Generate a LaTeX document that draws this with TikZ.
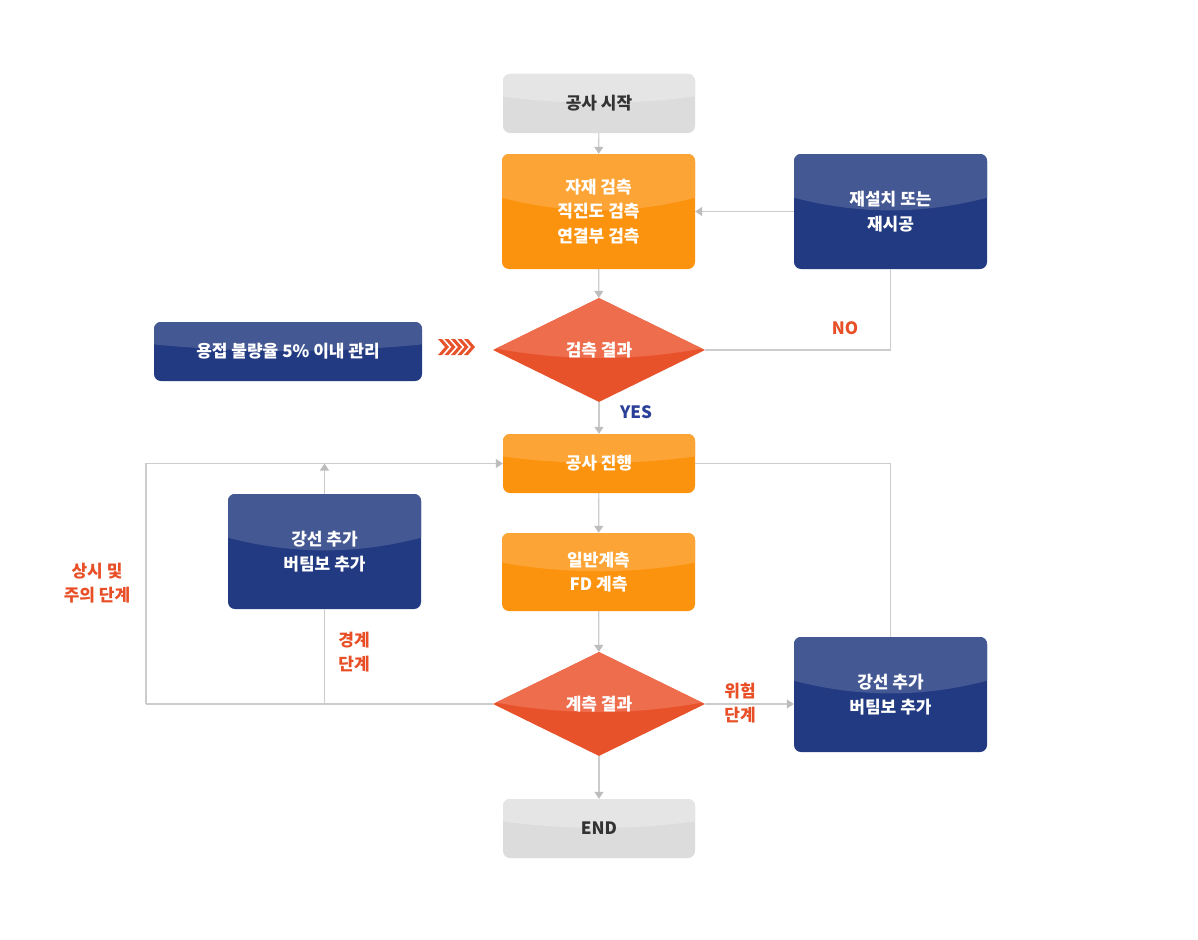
\documentclass[tikz,border=0pt]{standalone}
\usepackage{fontspec}
\setmainfont{Noto Sans CJK KR}
\usetikzlibrary{shapes.geometric,arrows.meta,calc}
\definecolor{grayT}{HTML}{E5E5E5}
\definecolor{grayB}{HTML}{DCDCDC}
\definecolor{orT}{HTML}{FCA536}
\definecolor{orB}{HTML}{FC930E}
\definecolor{blT}{HTML}{445893}
\definecolor{blB}{HTML}{223A81}
\definecolor{diT}{HTML}{EE6D4D}
\definecolor{diB}{HTML}{E8522B}
\definecolor{lblred}{HTML}{E84F27}
\definecolor{lblblue}{HTML}{2A3F97}
\definecolor{linec}{HTML}{CCCCCC}
\definecolor{tipc}{HTML}{BDBDBD}
\definecolor{textdark}{HTML}{333333}
\newcommand{\boxfont}{\fontsize{17}{24.5}\selectfont\bfseries}
\tikzset{
  gloss/.style={path picture={
    \coordinate (g1) at ($(path picture bounding box.north west)!0.333!(path picture bounding box.north east)$);
    \coordinate (g2) at ($(path picture bounding box.north west)!0.667!(path picture bounding box.north east)$);
    \coordinate (g3) at ($(path picture bounding box.south west)!0.333!(path picture bounding box.south east)$);
    \coordinate (g4) at ($(path picture bounding box.south west)!0.667!(path picture bounding box.south east)$);
    \fill[#1, sharp corners]
      (path picture bounding box.north west)
      -- ($(path picture bounding box.north west)!0.38!(path picture bounding box.south west)$)
      .. controls ($(g1)!0.527!(g3)$) and ($(g2)!0.527!(g4)$) ..
      ($(path picture bounding box.north east)!0.38!(path picture bounding box.south east)$)
      -- (path picture bounding box.north east) -- cycle;
  }},
  dgloss/.style={path picture={
    \fill[#1, sharp corners]
      (path picture bounding box.north west) -- (path picture bounding box.north east)
      -- ($(path picture bounding box.east)+(0,-2)$)
      .. controls ($(path picture bounding box.center)+(35.3,11.3)$) and ($(path picture bounding box.center)+(-35.3,11.3)$) ..
      ($(path picture bounding box.west)+(0,-2)$) -- cycle;
  }},
  box/.style={rectangle, rounded corners=7pt, inner sep=0pt, align=center, font=\boxfont},
  graybox/.style={box, fill=grayB, gloss=grayT, text=textdark, minimum width=192pt, minimum height=59pt},
  orangebox/.style={box, fill=orB, gloss=orT, text=white},
  bluebox/.style={box, fill=blB, gloss=blT, text=white},
  dia/.style={diamond, fill=diB, dgloss=diT, text=white, minimum width=212pt, minimum height=104pt, inner sep=0pt, aspect=2.04, font=\boxfont},
  conn/.style={draw=linec, line width=1.2pt},
  arr/.style={conn, -{Triangle[width=9pt,length=7pt,color=tipc]}},
  lbl/.style={font=\boxfont, align=center, inner sep=0pt},
  chev/.style={fill=diB, draw=none},
}
\begin{document}
\begin{tikzpicture}[x=1pt,y=-1pt]
\useasboundingbox[fill=white] (0,0) rectangle (1198,939);

% nodes
\node[graybox] (start) at (599,103.5) {공사 시작};
\node[orangebox, minimum width=193pt, minimum height=115pt] (insp) at (598.5,211.5) {자재 검측\\직진도 검측\\연결부 검측};
\node[bluebox, minimum width=193pt, minimum height=115pt] (redo) at (890.5,211.5) {재설치 또는\\재시공};
\node[dia] (res1) at (599,350) {검측 결과};
\node[bluebox, minimum width=268pt, minimum height=59pt] (weld) at (288,351.5) {용접 불량율 5\% 이내 관리};
\node[orangebox, minimum width=192pt, minimum height=59pt] (prog) at (599,463.5) {공사 진행};
\node[bluebox, minimum width=193pt, minimum height=115pt] (reinfL) at (324.5,551.5) {강선 추가\\버팀보 추가};
\node[orangebox, minimum width=193pt, minimum height=78pt] (meas) at (598.5,572) {일반계측\\FD 계측};
\node[dia] (res2) at (599,704) {계측 결과};
\node[bluebox, minimum width=193pt, minimum height=115pt] (reinfR) at (890.5,694.5) {강선 추가\\버팀보 추가};
\node[graybox] (endn) at (599,828.5) {END};

% labels
\node[lbl, text=lblred] (lno) at (845,328) {NO};
\node[lbl, text=lblblue] (lyes) at (636,412) {YES};
\node[lbl, text=lblred] (lcaut) at (97,583) {상시 및\\주의 단계};
\node[lbl, text=lblred] (lwarn) at (354,652) {경계\\단계};
\node[lbl, text=lblred] (ldang) at (740,703) {위험\\단계};

% coordinates
\coordinate (lp) at (146,704);

% main flow
\draw[arr] (start) -- (insp);
\draw[arr] (insp) -- (res1);
\draw[arr] (res1) -- (prog);
\draw[arr] (prog) -- (meas);
\draw[arr] (meas) -- (res2);
\draw[arr] (res2) -- (endn);

% NO loop
\draw[conn] (res1.east) -| (redo.south);
\draw[arr] (redo.west) -- (insp.east);

% left loop
\draw[conn] (res2.west) -- (lp);
\draw[arr] (lp) |- (prog.west);
\draw[conn] (reinfL.south) -- (reinfL.south |- res2.west);
\draw[arr] (reinfL.north) -- (reinfL.north |- prog.west);

% right loop
\draw[conn] (prog.east) -| (reinfR.north);
\draw[arr] (res2.east) -- (res2.east -| reinfR.west);

% chevrons
\foreach \i in {0,...,4}{
  \fill[chev] ({438+6.5*\i},339) -- ({442+6.5*\i},339) -- ({449+6.5*\i},347) -- ({442+6.5*\i},355) -- ({438+6.5*\i},355) -- ({445+6.5*\i},347) -- cycle;
}
\end{tikzpicture}
\end{document}
